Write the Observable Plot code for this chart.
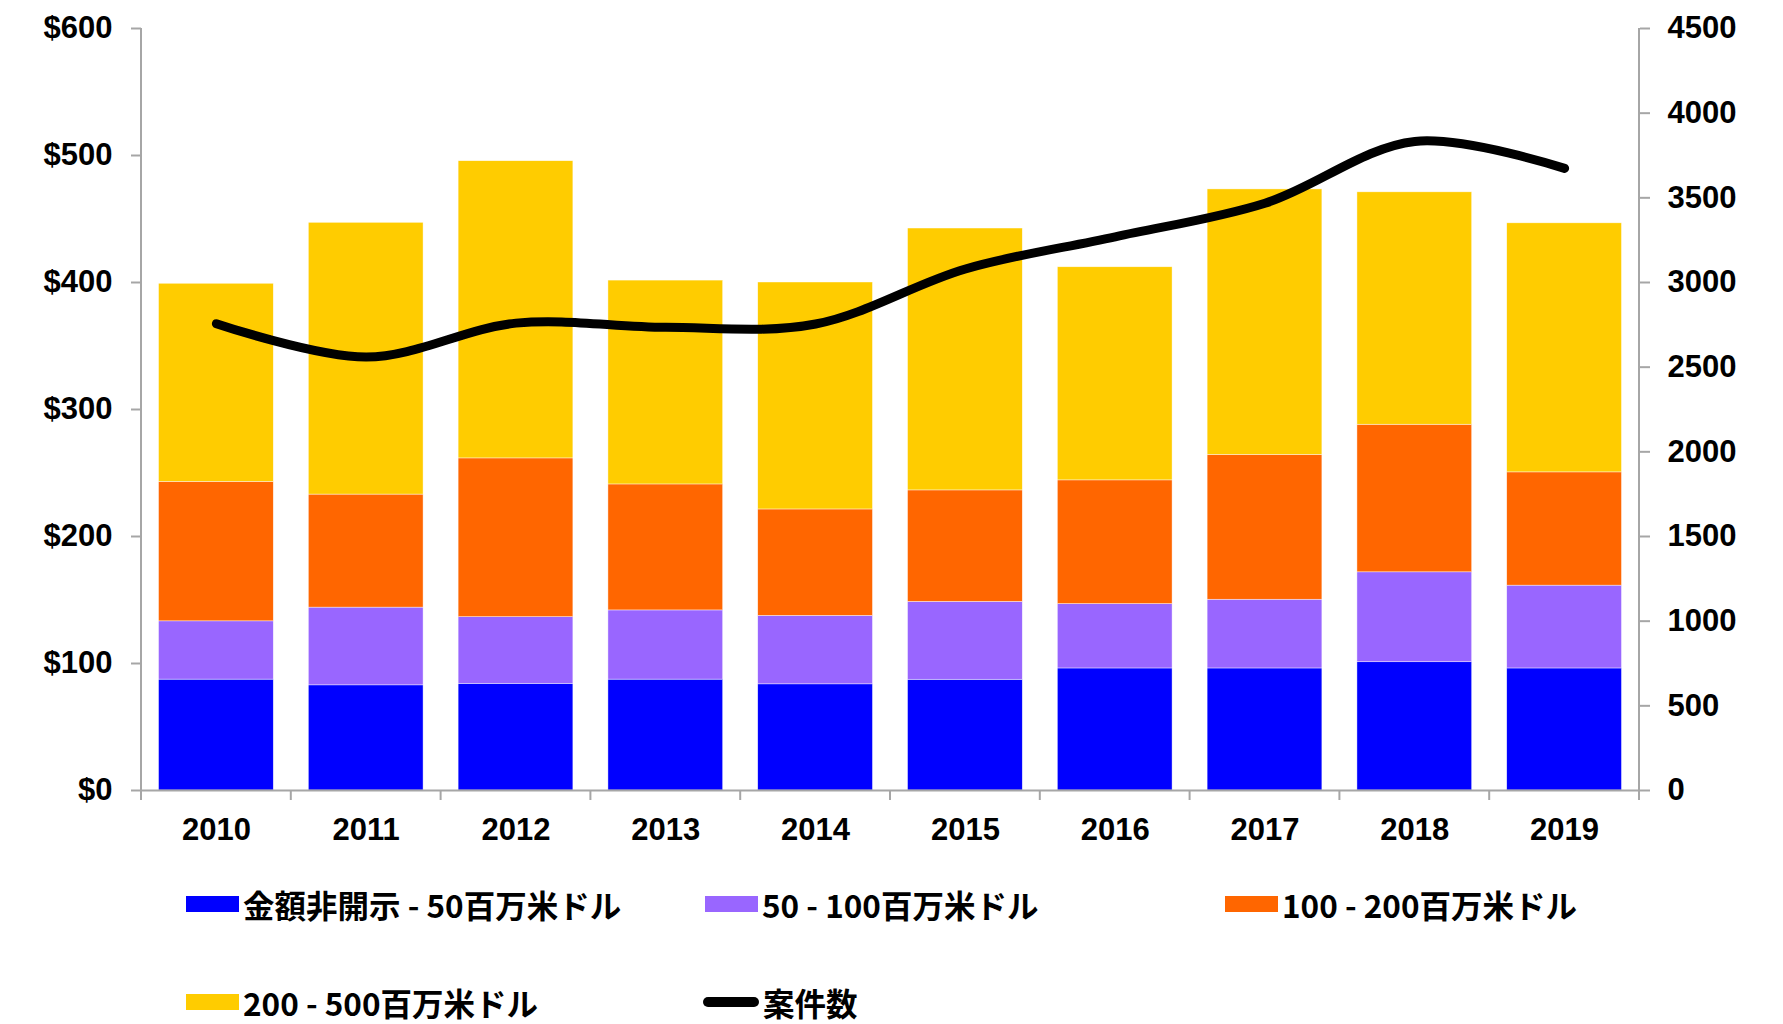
<!DOCTYPE html>
<html>
<head>
<meta charset="utf-8">
<script src="https://cdn.jsdelivr.net/npm/d3@7"></script>
<script src="https://cdn.jsdelivr.net/npm/@observablehq/plot@0.6"></script>
<style>
  body { margin: 0; background: #fff; }
  #wrap { position: relative; width: 1783px; height: 1024px; background: #fff; }
  .leg { position: absolute; display: flex; align-items: center; height: 40px;
         font-family: "Noto Sans CJK JP", "Noto Sans", sans-serif; font-weight: 700;
         font-size: 31.5px; color: #000; white-space: nowrap; }
  .sw { width: 53px; height: 16px; margin-right: 4px; flex: none; }
  .swl { width: 56px; height: 10px; border-radius: 5px; margin-right: 4px; background: #000; flex: none; }
</style>
</head>
<body>
<div id="wrap"></div>
<script>
// ---- data ----
const years = ["2010","2011","2012","2013","2014","2015","2016","2017","2018","2019"];
const tierNames = ["金額非開示 - 50百万米ドル", "50 - 100百万米ドル", "100 - 200百万米ドル", "200 - 500百万米ドル"];
const tierColors = ["#0000FF", "#9966FF", "#FF6600", "#FFCC00"];
const undisclosedTo50 = [87.3, 82.8, 84.0, 87.3, 83.6, 87.2, 96.1, 96.1, 101.0, 96.1];
const from50To100    = [45.9, 61.2, 52.5, 54.5, 53.9, 61.3, 50.7, 54.1, 70.8, 65.2];
const from100To200   = [109.8, 89.0, 125.0, 99.2, 83.8, 87.8, 97.4, 114.1, 116.2, 89.2];
const from200To500   = [156.0, 214.0, 234.0, 160.5, 178.7, 206.2, 167.8, 209.0, 183.0, 196.1];
const dealCountName = "案件数";
const dealCounts = [2757, 2560, 2760, 2735, 2755, 3080, 3270, 3468, 3833, 3674];
const leftTicks = [0, 100, 200, 300, 400, 500, 600];
const rightTicks = [0, 500, 1000, 1500, 2000, 2500, 3000, 3500, 4000, 4500];
const leftMax = 600, rightMax = 4500;

// ---- build tables ----
const tierSeries = [undisclosedTo50, from50To100, from100To200, from200To500];
const barData = [];
years.forEach((yr, i) => tierSeries.forEach((s, t) => barData.push({year: yr, tier: tierNames[t], value: s[i]})));
const toLeft = c => c * leftMax / rightMax;
const lineData = years.map((yr, i) => ({year: yr, count: dealCounts[i]}));

const axisGray = "#a6a6a6";
const font = "Liberation Sans, Arial, sans-serif";

function frameAndTicks(index, scales, values, dims) {
  const {x, y} = scales;
  const g = d3.create("svg:g").attr("stroke", axisGray).attr("stroke-width", 2).attr("fill", "none");
  const xl = dims.marginLeft, xr = dims.width - dims.marginRight;
  const yb = y(0), yt = y(leftMax);
  g.append("line").attr("x1", xl).attr("x2", xl).attr("y1", yt).attr("y2", yb + 1);
  g.append("line").attr("x1", xr).attr("x2", xr).attr("y1", yt).attr("y2", yb + 1);
  const step = x(years[1]) - x(years[0]);
  const half = x.bandwidth() / 2;
  const bounds = years.map(yr => x(yr) + half - step / 2);
  bounds.push(x(years[years.length - 1]) + half + step / 2);
  bounds.forEach(bx => g.append("line").attr("x1", bx).attr("x2", bx).attr("y1", yb).attr("y2", yb + 10));
  return g.node();
}

const chart = Plot.plot({
  width: 1783,
  height: 860,
  marginLeft: 141,
  marginRight: 144,
  marginTop: 28,
  marginBottom: 70,
  style: {fontFamily: font, background: "#fff", color: "#000"},
  x: {domain: years, paddingInner: 0.234, paddingOuter: 0.117, round: false, label: null},
  y: {domain: [0, leftMax], label: null},
  color: {domain: tierNames, range: tierColors},
  marks: [
    Plot.barY(barData, {x: "year", y: "value", fill: "tier", stroke: "#ffffff", strokeWidth: 0.6, strokeOpacity: 0.7}),
    Plot.ruleY([0], {stroke: axisGray, strokeWidth: 2}),
    frameAndTicks,
    Plot.line(lineData, {x: "year", y: d => toLeft(d.count), curve: "catmull-rom",
      stroke: "#000", strokeWidth: 9, strokeLinecap: "round", strokeLinejoin: "round"}),
    Plot.axisY(leftTicks, {anchor: "left", tickFormat: d => "$" + d, tickSize: 10, tickPadding: 19,
      stroke: axisGray, strokeWidth: 2, fill: "#000", fontSize: 31, fontWeight: "bold", label: null}),
    Plot.axisY(rightTicks.map(toLeft), {anchor: "right", tickFormat: d => String(Math.round(d * rightMax / leftMax)),
      tickSize: 10, tickPadding: 18, stroke: axisGray, strokeWidth: 2, fill: "#000", fontSize: 31, fontWeight: "bold", label: null}),
    Plot.axisX({anchor: "bottom", tickSize: 0, tickPadding: 27, fill: "#000", fontSize: 31, fontWeight: "bold", label: null})
  ]
});

const wrap = document.getElementById("wrap");
wrap.appendChild(chart);

// ---- legend ----
const legendItems = [
  {label: tierNames[0], color: tierColors[0], left: 186, top: 884},
  {label: tierNames[1], color: tierColors[1], left: 705, top: 884},
  {label: tierNames[2], color: tierColors[2], left: 1225, top: 884},
  {label: tierNames[3], color: tierColors[3], left: 186, top: 982},
  {label: dealCountName, color: null, left: 703, top: 982}
];
legendItems.forEach(it => {
  const d = document.createElement("div");
  d.className = "leg";
  d.style.left = it.left + "px";
  d.style.top = it.top + "px";
  const s = document.createElement("span");
  if (it.color) { s.className = "sw"; s.style.background = it.color; }
  else { s.className = "swl"; }
  d.appendChild(s);
  const t = document.createElement("span");
  t.textContent = it.label;
  d.appendChild(t);
  wrap.appendChild(d);
});
</script>
</body>
</html>
